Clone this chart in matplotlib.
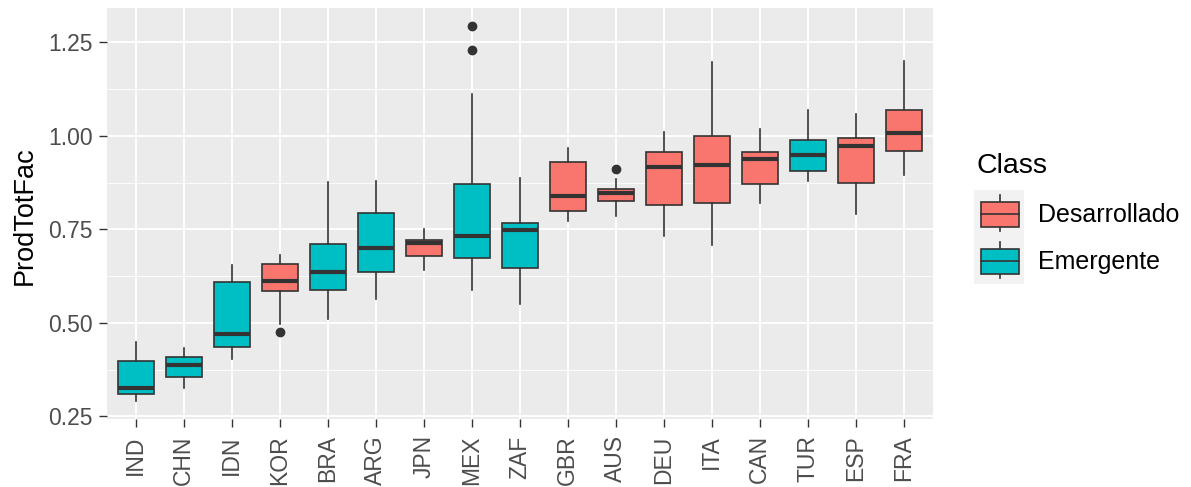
import matplotlib
matplotlib.use("Agg")
import matplotlib.pyplot as plt
from matplotlib.patches import Rectangle
from matplotlib.lines import Line2D

# ---------------- data ----------------
countries = ["IND", "CHN", "IDN", "KOR", "BRA", "ARG", "JPN", "MEX", "ZAF",
             "GBR", "AUS", "DEU", "ITA", "CAN", "TUR", "ESP", "FRA"]
classes = ["Emergente", "Emergente", "Emergente", "Desarrollado", "Emergente",
           "Emergente", "Desarrollado", "Emergente", "Emergente", "Desarrollado",
           "Desarrollado", "Desarrollado", "Desarrollado", "Desarrollado",
           "Emergente", "Desarrollado", "Desarrollado"]
whis_lo = [0.292, 0.326, 0.402, 0.498, 0.510, 0.564, 0.640, 0.587, 0.549,
           0.771, 0.785, 0.731, 0.709, 0.819, 0.878, 0.791, 0.896]
q1 = [0.310, 0.354, 0.436, 0.586, 0.587, 0.636, 0.678, 0.674, 0.647,
      0.798, 0.825, 0.814, 0.821, 0.870, 0.905, 0.874, 0.960]
median = [0.326, 0.386, 0.471, 0.613, 0.635, 0.699, 0.714, 0.731, 0.749,
          0.840, 0.847, 0.917, 0.921, 0.938, 0.948, 0.972, 1.008]
q3 = [0.399, 0.409, 0.609, 0.657, 0.711, 0.794, 0.722, 0.870, 0.767,
      0.929, 0.858, 0.956, 0.999, 0.956, 0.988, 0.994, 1.070]
whis_hi = [0.448, 0.433, 0.654, 0.680, 0.876, 0.880, 0.751, 1.112, 0.886,
           0.968, 0.885, 1.010, 1.197, 1.017, 1.070, 1.059, 1.199]
outliers = [[], [], [], [0.475], [], [], [], [1.230, 1.293], [], [],
            [0.912], [], [], [], [], [], []]

yticks = [0.25, 0.50, 0.75, 1.00, 1.25]
ytick_labels = ["0.25", "0.50", "0.75", "1.00", "1.25"]
legend_levels = ["Desarrollado", "Emergente"]
palette = {"Desarrollado": "#F8766D", "Emergente": "#00BFC4"}

# ---------------- figure ----------------
plt.rcParams["font.family"] = ["Liberation Sans", "DejaVu Sans"]
W, H = 1191, 487
fig = plt.figure(figsize=(W / 100, H / 100), dpi=100)
fig.patch.set_facecolor("white")

left, right, top, bottom = 106.7, 932.7, 7.5, 419.3
ax = fig.add_axes([left / W, 1 - bottom / H, (right - left) / W, (bottom - top) / H])
ax.set_facecolor("#EBEBEB")
for s in ax.spines.values():
    s.set_visible(False)

edge = "#333333"
stats = []
for i in range(len(countries)):
    stats.append(dict(med=median[i], q1=q1[i], q3=q3[i],
                      whislo=whis_lo[i], whishi=whis_hi[i],
                      fliers=outliers[i], label=countries[i]))
positions = list(range(1, len(countries) + 1))
bp = ax.bxp(stats, positions=positions, widths=0.75, patch_artist=True,
            showcaps=False,
            boxprops=dict(edgecolor=edge, linewidth=1.2),
            whiskerprops=dict(color=edge, linewidth=1.2),
            medianprops=dict(color=edge, linewidth=3.0, solid_capstyle="butt"),
            flierprops=dict(marker="o", markerfacecolor=edge, markeredgecolor=edge,
                            markersize=6, linestyle="none"),
            zorder=3)
for patch, c in zip(bp["boxes"], classes):
    patch.set_facecolor(palette[c])

# limits (ggplot-style 5% / 0.6 expansion)
all_vals = whis_lo + whis_hi + [v for o in outliers for v in o]
lo, hi = min(all_vals), max(all_vals)
rng = hi - lo
ax.set_ylim(lo - 0.05 * rng, hi + 0.05 * rng)
ax.set_xlim(0.4, len(countries) + 0.6)

ax.set_yticks(yticks)
ax.set_yticklabels(ytick_labels)
ax.set_yticks([(a + b) / 2 for a, b in zip(yticks[:-1], yticks[1:])], minor=True)
ax.set_xticks(positions)
ax.set_xticklabels(countries, rotation=90)

ax.grid(True, which="major", color="white", linewidth=1.3, zorder=0)
ax.grid(True, which="minor", axis="y", color="white", linewidth=0.6, zorder=0)
ax.set_axisbelow(True)
ax.tick_params(axis="both", which="major", length=5.5, width=1.0, color=edge,
               labelsize=16.5, labelcolor="#4D4D4D")
ax.tick_params(axis="y", which="major", pad=4.5)
ax.tick_params(axis="x", which="major", pad=6)
ax.tick_params(which="minor", length=0)

fig.text(25 / W, 1 - 216 / H, "ProdTotFac", rotation=90, ha="center", va="center",
         fontsize=19.5, color="black")

# ---------------- legend ----------------
lg = fig.add_axes([0, 0, 1, 1])
lg.set_xlim(0, W)
lg.set_ylim(H, 0)
lg.axis("off")
lg.patch.set_alpha(0)
lg.text(976, 173, "Class", fontsize=20.5, ha="left", va="baseline", color="black")
key_centers = [214, 261]
lg.add_patch(Rectangle((974, 190), 50, 94, facecolor="#F2F2F2", edgecolor="none"))
for lev, cy in zip(legend_levels, key_centers):
    lg.add_line(Line2D([1000, 1000], [cy - 19, cy + 17], color=edge, linewidth=1.2))
    lg.add_patch(Rectangle((981, cy - 12.5), 38, 25, facecolor=palette[lev],
                           edgecolor=edge, linewidth=1.2, zorder=3))
    lg.add_line(Line2D([981, 1019], [cy, cy], color=edge, linewidth=1.2, zorder=4))
    lg.text(1038, cy + 1, lev, fontsize=18, ha="left", va="center", color="black")

fig.savefig("out.png", dpi=100, facecolor="white")
